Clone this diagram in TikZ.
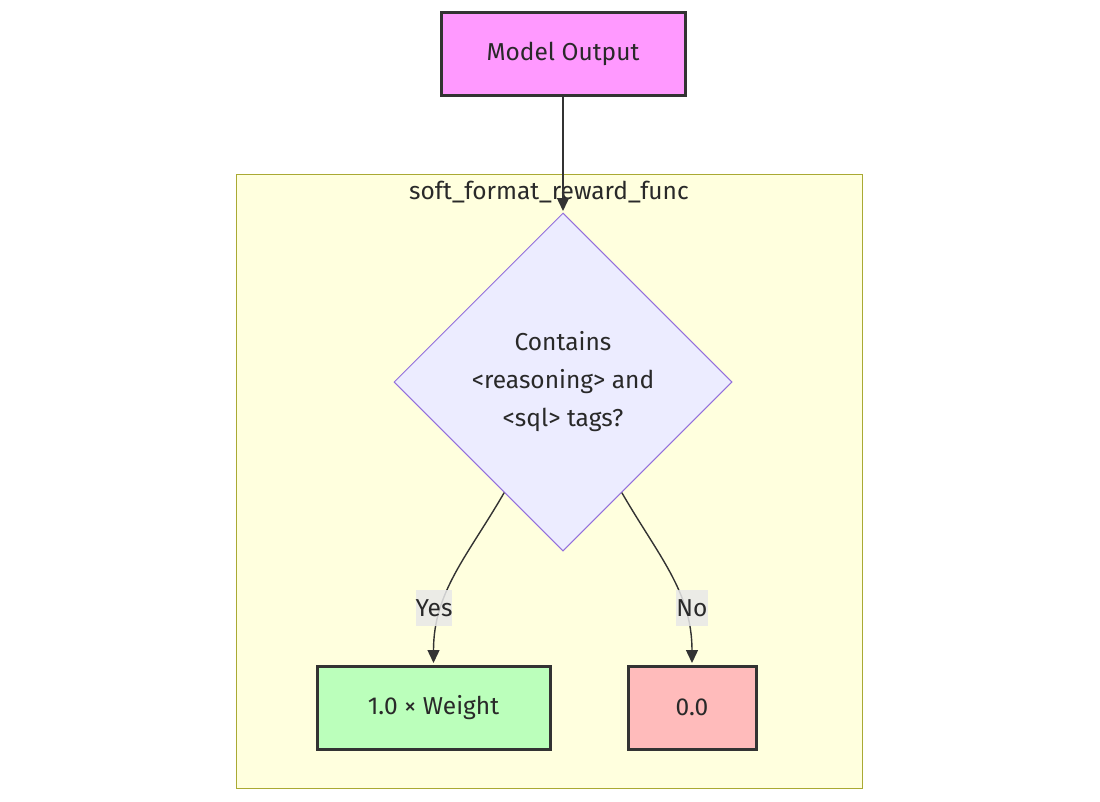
\documentclass[tikz,border=0pt]{standalone}
\usepackage{fontspec}
\setmainfont{Fira Sans}
\usetikzlibrary{shapes.geometric,arrows.meta}

\definecolor{inkline}{HTML}{333333}
\definecolor{outfill}{HTML}{FF99FF}
\definecolor{yesfill}{HTML}{BBFFBB}
\definecolor{nofill}{HTML}{FFBBBB}
\definecolor{groupfill}{HTML}{FFFFDE}
\definecolor{groupline}{HTML}{AAAA33}
\definecolor{askfill}{HTML}{ECECFF}
\definecolor{askline}{HTML}{9370DB}
\definecolor{tagfill}{HTML}{E8E8E8}

\begin{document}
\begin{tikzpicture}[x=1pt,y=1pt,yscale=-1,xscale=1,
  every node/.style={text=inkline!80!black,font=\fontsize{24.5}{38}\selectfont},
  valbox/.style={draw=inkline,line width=3pt,minimum height=83pt,inner sep=0pt},
  askbox/.style={diamond,draw=askline,fill=askfill,line width=1pt,minimum width=338pt,minimum height=338pt,inner sep=0pt,align=center},
  flow/.style={draw=inkline,line width=1.4pt,-{Triangle[length=13pt,width=12pt]},shorten >=1.5pt},
  tag/.style={fill=tagfill,fill opacity=0.85,text opacity=1,inner sep=0pt,minimum height=36pt,minimum width=30pt}]
\useasboundingbox (0,0) rectangle (1100,801);

% Group
\draw [groupline,fill=groupfill,line width=1pt] (236,174) rectangle (862,788);
\node (title) at (549,192) {soft\_format\_reward\_func};

% Text Node
\node [valbox,fill=outfill,minimum width=244pt] (out) at (563,54) {Model Output};
% Decision
\node [askbox] (ask) at (563,382) {Contains\\{<}reasoning{>} and\\{<}sql{>} tags?};
% Text Node
\node [valbox,fill=yesfill,minimum width=233pt] (yes) at (433.5,707.5) {1.0 × Weight};
% Text Node
\node [valbox,fill=nofill,minimum width=128pt] (no) at (692,707.5) {0.0};

% Connection
\draw [flow] (out) -- (ask);
% Connection
\draw [flow] (ask.242) to[out=120,in=270] (yes.north);
% Connection
\draw [flow] (ask.298) to[out=60,in=270] (no.north);

% Edge labels
\node [tag] (lyes) at (434,608) {Yes};
\node [tag] (lno) at (692,608) {No};

\end{tikzpicture}
\end{document}
